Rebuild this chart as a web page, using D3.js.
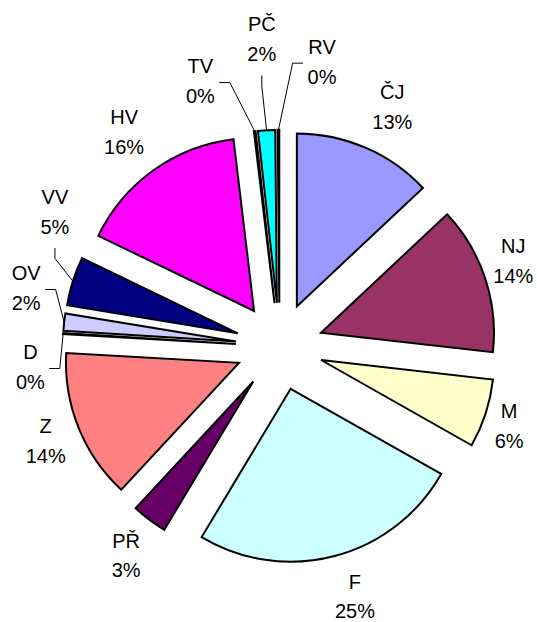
<!DOCTYPE html>
<html>
<head>
<meta charset="utf-8">
<script src="https://cdn.jsdelivr.net/npm/d3@7"></script>
<style>
body { margin: 0; background: #fff; }
svg { display: block; }
text { font-family: "Liberation Sans", Arial, sans-serif; font-size: 20px; fill: #000; }
</style>
</head>
<body>
<svg id="pie" width="537" height="622"></svg>
<script>
// subjects, clockwise from 12 o'clock
const subjects = ["ČJ", "NJ", "M", "F", "PŘ", "Z", "D", "OV", "VV", "HV", "TV", "PČ", "RV"];
const shares = [13.0, 13.8, 6.4, 25.4, 3.3, 14.0, 0.1, 1.6, 4.55, 15.95, 0.15, 1.6, 0.15];
const sliceColors = ["#9999ff", "#993366", "#ffffcc", "#ccffff", "#660066", "#ff8080", "#0066cc",
                     "#ccccff", "#000080", "#ff00ff", "#ffff00", "#00ffff", "#800080"];

// label layout: angle (deg clockwise from top), distance from pie centre, leader side
const labelAngle = [25.2, 69.9, 109.1, 163.2, 216.3, 248.1, 265.3, 283, 301, 324.1, 343.4, 356.7, 8.5];
const labelDist = [265, 249, 243, 261, 259, 252, 250, 260, 262, 265, 277, 308, 288];
const leaderSide = [null, null, null, null, null, null, "right", "right", "bottom", null, "right", "bottom", "left"];

const cx = 279.5, cy = 346.5;
const radius = 173;
const explode = 43.7;
const lineGap = 14.85;

const data = subjects.map((s, i) => ({ name: s, v: shares[i], i: i }));
const total = d3.sum(shares);

const pie = d3.pie().sort(null).value(d => d.v);
const arc = d3.arc().innerRadius(0).outerRadius(radius);
const arcs = pie(data);

const svg = d3.select("#pie");
const g = svg.append("g").attr("transform", "translate(" + cx + "," + cy + ")");

function mid(a) { return (a.startAngle + a.endAngle) / 2; }

g.selectAll("path.slice")
    .data(arcs)
    .enter()
    .append("path")
    .attr("class", "slice")
    .attr("d", arc)
    .attr("transform", d => {
        const m = mid(d);
        return "translate(" + (Math.sin(m) * explode) + "," + (-Math.cos(m) * explode) + ")";
    })
    .attr("fill", d => sliceColors[d.data.i])
    .attr("stroke", "#000")
    .attr("stroke-width", 2)
    .attr("stroke-linejoin", "miter");

// labels
const labels = g.selectAll("g.lab")
    .data(arcs)
    .enter()
    .append("g")
    .attr("class", "lab");

labels.each(function (d) {
    const i = d.data.i;
    const t = labelAngle[i] * Math.PI / 180;
    const bx = Math.sin(t) * labelDist[i];
    const by = -Math.cos(t) * labelDist[i];
    const sel = d3.select(this);

    const t1 = sel.append("text")
        .attr("x", bx).attr("y", by - lineGap + 7.2)
        .attr("text-anchor", "middle")
        .text(d.data.name);
    const t2 = sel.append("text")
        .attr("x", bx).attr("y", by + lineGap + 7.2)
        .attr("text-anchor", "middle")
        .text(Math.round(d.data.v / total * 100) + "%");

    const side = leaderSide[i];
    if (!side) return;

    const w = Math.max(t1.node().getComputedTextLength(), t2.node().getComputedTextLength());
    const m = mid(d);
    const ex = Math.sin(m) * (radius + explode);
    const ey = -Math.cos(m) * (radius + explode);
    let pts;
    if (side === "right") {
        const x0 = bx + w / 2 + 4.5, y0 = by + 1.5;
        pts = [[x0, y0], [x0 + 10.5, y0], [ex, ey]];
    } else if (side === "left") {
        const x0 = bx - w / 2 - 4.5, y0 = by + 1.5;
        pts = [[x0, y0], [x0 - 10.5, y0], [ex, ey]];
    } else {
        const y0 = by + lineGap + 21.5;
        pts = [[bx, y0], [bx, y0 + 10.5], [ex, ey]];
    }
    sel.append("path")
        .attr("d", d3.line()(pts))
        .attr("fill", "none")
        .attr("stroke", "#000")
        .attr("stroke-width", 1);
});
</script>
</body>
</html>
